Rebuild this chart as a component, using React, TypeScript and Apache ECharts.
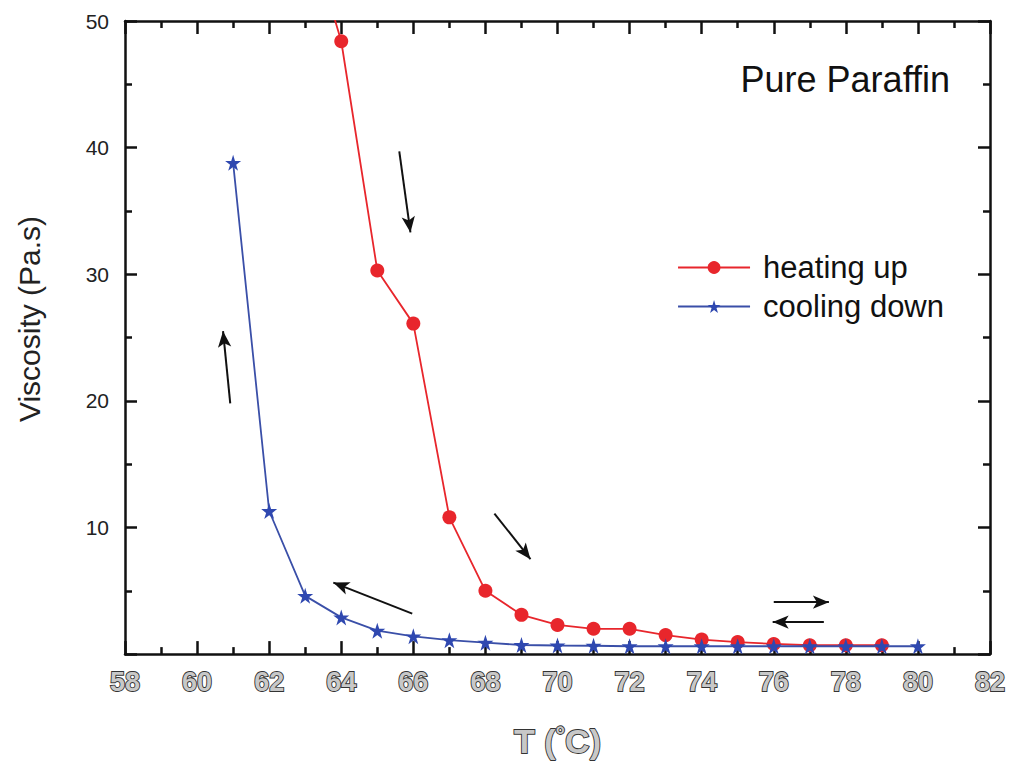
import React, { useEffect, useRef } from "react";
import * as echarts from "echarts";

const heatT = [63, 64, 65, 66, 67, 68, 69, 70, 71, 72, 73, 74, 75, 76, 77, 78, 79];
const heatV = [58, 48.4, 30.3, 26.1, 10.8, 5.0, 3.1, 2.3, 2.0, 2.0, 1.5, 1.15, 0.95, 0.8, 0.7, 0.7, 0.7];
const coolT = [61, 62, 63, 64, 65, 66, 67, 68, 69, 70, 71, 72, 73, 74, 75, 76, 77, 78, 79, 80];
const coolV = [38.8, 11.3, 4.6, 2.9, 1.85, 1.4, 1.1, 0.9, 0.72, 0.68, 0.66, 0.62, 0.62, 0.62, 0.62, 0.62, 0.62, 0.62, 0.62, 0.62];
const xTicks = [58, 60, 62, 64, 66, 68, 70, 72, 74, 76, 78, 80, 82];
const yTicks = [10, 20, 30, 40, 50];
// annotation arrows: [fromT, fromV, toT, toV]
const arrows = [
  [65.61, 39.7, 65.92, 33.3],
  [60.92, 19.8, 60.72, 25.5],
  [68.25, 11.1, 69.25, 7.5],
  [65.97, 3.2, 63.78, 5.65],
  [76.0, 4.1, 77.53, 4.1],
  [77.39, 2.53, 75.97, 2.53],
];

const STAR = "path://M50,0 L61.8,36.2 L100,36.2 L69.1,58.8 L80.9,95.1 L50,72.7 L19.1,95.1 L30.9,58.8 L0,36.2 L38.2,36.2 Z";
const font = "Liberation Sans, Arial, sans-serif";
const hollow = {
  color: "#c8c8c8",
  textBorderColor: "#333",
  textBorderWidth: 1.8,
  fontWeight: "bold" as const,
  fontFamily: font,
};

const axisLine = { onZero: false, lineStyle: { color: "#111", width: 2.5 } };
const tick = (len: number) => ({ show: true, inside: false, length: -len, lineStyle: { color: "#111", width: 2.5 } });
const minor = (len: number) => ({ show: true, splitNumber: 2, length: -len, lineStyle: { color: "#111", width: 2.5 } });

export default function App() {
  const ref = useRef<HTMLDivElement>(null);
  useEffect(() => {
    if (!ref.current) return;
    const chart = echarts.init(ref.current, undefined, { renderer: "svg" });
    chart.setOption({
      animation: false,
      backgroundColor: "#fff",
      grid: { left: 125, top: 21, right: 19, bottom: 106, containLabel: false },
      title: {
        text: "Pure Paraffin",
        right: 54,
        top: 56,
        textStyle: { fontFamily: font, fontSize: 36, fontWeight: "normal", color: "#111" },
      },
      legend: {
        right: 60,
        top: 247,
        orient: "vertical",
        itemGap: 8,
        itemWidth: 72,
        itemHeight: 16,
        textStyle: { fontFamily: font, fontSize: 31, color: "#111", padding: [0, 0, 0, 8] },
        data: ["heating up", "cooling down"],
      },
      graphic: [
        {
          type: "text",
          x: 29,
          y: 319,
          rotation: Math.PI / 2,
          style: {
            text: "Viscosity (Pa.s)",
            fontFamily: font,
            fontSize: 30,
            fill: "#222",
            align: "center",
            verticalAlign: "middle",
          },
        },
      ],
      xAxis: [
        {
          type: "value",
          min: 58,
          max: 82,
          interval: 2,
          axisLine,
          axisTick: tick(13),
          minorTick: minor(7),
          splitLine: { show: false },
          axisLabel: {
            margin: 14,
            fontSize: 27,
            ...hollow,
            formatter: (v: number) => (xTicks.includes(v) ? String(v) : ""),
          },
          name: "{a|T (}{b|°}{a|C)}",
          nameLocation: "middle",
          nameGap: 68,
          nameTextStyle: {
            rich: {
              a: { fontSize: 34, ...hollow },
              b: { fontSize: 24, ...hollow, verticalAlign: "top", padding: [0, 0, 14, 0] },
            },
          },
        },
        {
          type: "value",
          position: "top",
          min: 58,
          max: 82,
          interval: 2,
          axisLine,
          axisTick: tick(13),
          minorTick: minor(7),
          splitLine: { show: false },
          axisLabel: { show: false },
        },
      ],
      yAxis: [
        {
          type: "value",
          min: 0,
          max: 50,
          interval: 10,
          axisLine,
          axisTick: tick(12),
          minorTick: minor(7),
          splitLine: { show: false },
          axisLabel: {
            margin: 16,
            fontSize: 21,
            fontFamily: font,
            color: "#222",
            formatter: (v: number) => (yTicks.includes(v) ? String(v) : ""),
          },
        },
        {
          type: "value",
          position: "right",
          min: 0,
          max: 50,
          interval: 10,
          axisLine,
          axisTick: tick(12),
          minorTick: minor(7),
          splitLine: { show: false },
          axisLabel: { show: false },
        },
      ],
      series: [
        {
          name: "heating up",
          type: "line",
          data: heatT.map((t, i) => [t, heatV[i]]),
          symbol: "circle",
          symbolSize: 14,
          clip: true,
          lineStyle: { color: "#e8262c", width: 1.8 },
          itemStyle: { color: "#e8262c" },
          z: 2,
        },
        {
          name: "cooling down",
          type: "line",
          data: coolT.map((t, i) => [t, coolV[i]]),
          symbol: STAR,
          symbolSize: 16,
          clip: true,
          lineStyle: { color: "#3a4fa8", width: 1.8 },
          itemStyle: { color: "#2f48b0" },
          z: 3,
          markLine: {
            silent: true,
            symbol: ["none", "arrow"],
            symbolSize: [10, 16],
            label: { show: false },
            lineStyle: { color: "#111", width: 2, type: "solid" },
            data: arrows.map((a) => [
              { coord: [a[0], a[1]] },
              { coord: [a[2], a[3]] },
            ]),
          },
        },
      ],
    });
    return () => chart.dispose();
  }, []);
  return <div ref={ref} style={{ width: 1009, height: 764, position: "absolute", left: 0, top: 0 }} />;
}
